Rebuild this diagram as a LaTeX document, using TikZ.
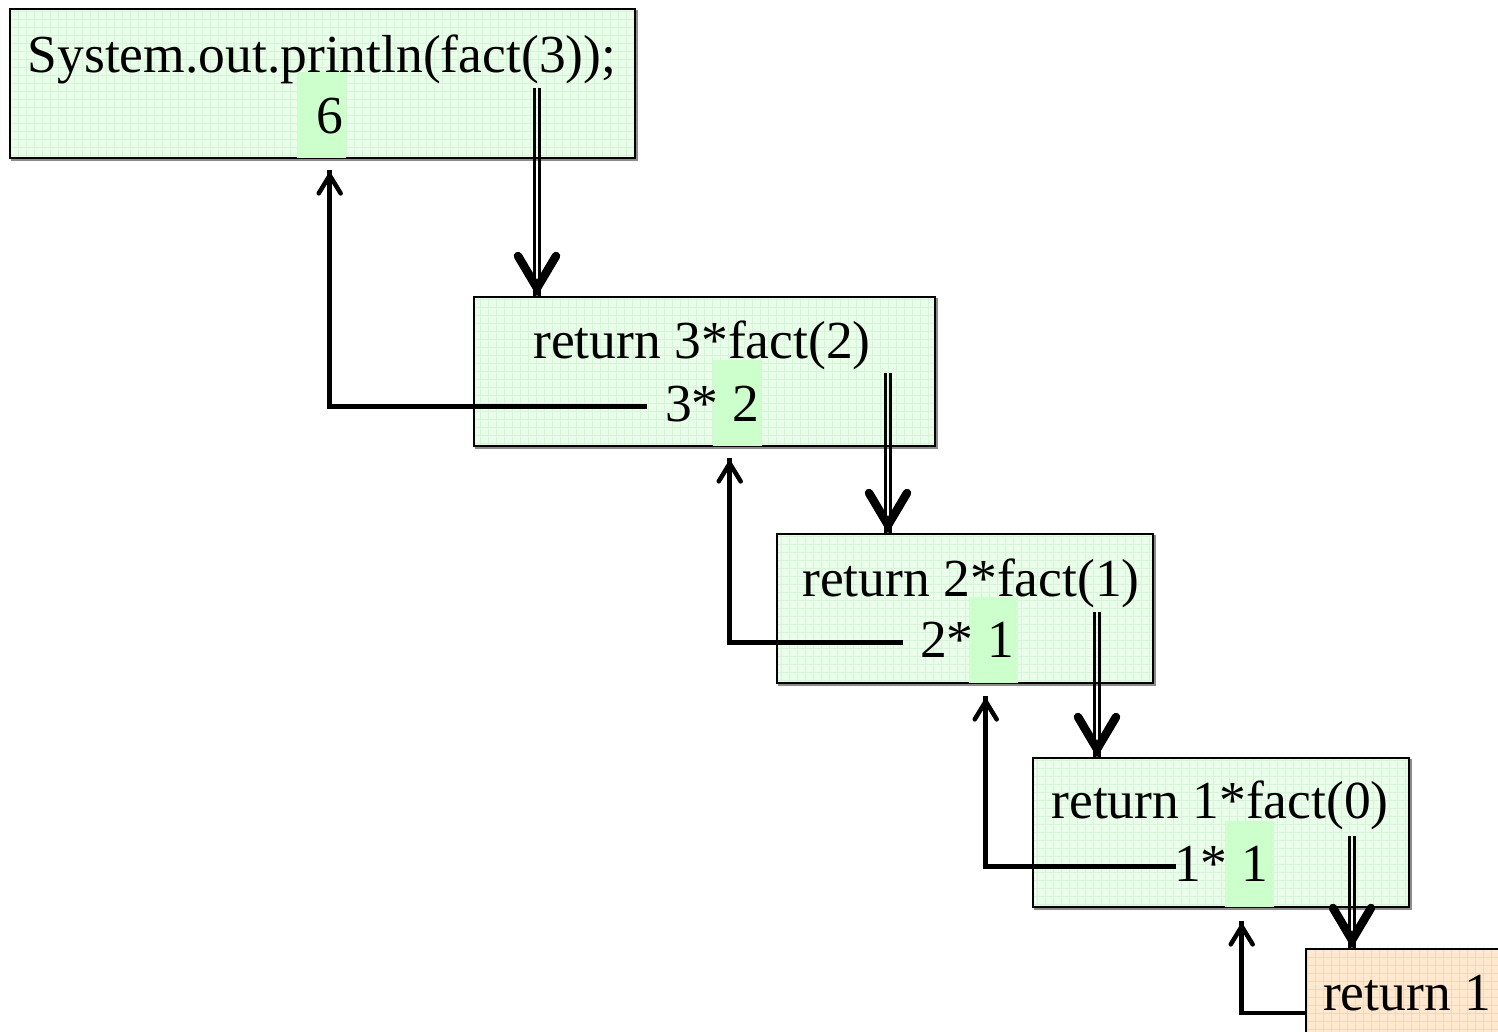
\documentclass[tikz,border=0pt]{standalone}
\usepackage{fontspec}
\setmainfont{Liberation Serif}
\usetikzlibrary{decorations.markings}
\definecolor{boxfill}{HTML}{EAFCEA}
\definecolor{boxgrid}{HTML}{D6F4D6}
\definecolor{hlfill}{HTML}{CCFFCC}
\definecolor{basefill}{HTML}{FFE8D0}
\definecolor{basegrid}{HTML}{F9D5B4}
\tikzset{
  gridded/.style={path picture={\draw[#1, line width=0.7pt]
      (path picture bounding box.south west) grid[step=8pt]
      (path picture bounding box.north east);}},
  frame/.style={draw, line width=2.2pt, inner sep=0pt, anchor=north west,
    minimum height=149pt,
    preaction={draw=black!45, line width=1.5pt,
      transform canvas={shift={(2pt,-2pt)}}}},
  callframe/.style={frame, fill=boxfill, gridded=boxgrid},
  baseframe/.style={frame, fill=basefill, gridded=basegrid},
  value/.style={fill=hlfill, inner sep=0pt, anchor=north west,
    minimum width=49pt, minimum height=86pt},
  code/.style={font=\fontsize{53.5pt}{60pt}\selectfont, inner sep=0pt, anchor=base},
  % call: two thin rails with a heavy open head
  call/.style={draw=none,
    postaction={draw, line width=2.7pt, transform canvas={xshift=-2.5pt}},
    postaction={draw, line width=2.7pt, transform canvas={xshift=2.5pt}},
    postaction={decorate, decoration={markings, mark=at position 1 with
      {\draw[line width=8.5pt, line cap=round, line join=miter]
        (-40pt,19pt) -- (-8pt,0pt) -- (-40pt,-19pt);}}}},
  % back: returned value travelling up to the caller
  back/.style={line width=4.7pt,
    postaction={decorate, decoration={markings, mark=at position 1 with
      {\draw[line width=4.5pt, line cap=round, line join=miter]
        (-23pt,11pt) -- (-5pt,0pt) -- (-23pt,-11pt);}}}},
}
\begin{document}
\begin{tikzpicture}[x=1pt, y=-1pt]
\path[use as bounding box] (0,0) rectangle (1498,1031);
\clip (0,0) rectangle (1498,1031);

% activation frames
\node[callframe, minimum width=625pt] (b1) at (9,8) {};
\node[callframe, minimum width=461pt] (b2) at (473,296) {};
\node[callframe, minimum width=376pt] (b3) at (776,533) {};
\node[callframe, minimum width=376pt] (b4) at (1032,757) {};
\node[baseframe, minimum width=210pt, minimum height=128pt] (b5) at (1305,948) {};

% slots that receive the returned values
\node[value] (h1) at (297,72) {};
\node[value] (h2) at (713,360) {};
\node[value] (h3) at (969,597) {};
\node[value] (h4) at (1225,821) {};

% code
\node[code] (t1) at (322,72) {System.out.println(fact(3));};
\node[code] (v1) at (330,133) {6};
\node[code] (t2) at (702,358) {return 3*fact(2)};
\node[code, anchor=base west] (v2) at (665,421) {3* 2};
\node[code] (t3) at (971,596) {return 2*fact(1)};
\node[code, anchor=base west] (v3) at (920,657) {2* 1};
\node[code] (t4) at (1220,818) {return 1*fact(0)};
\node[code, anchor=base west] (v4) at (1174,881) {1* 1};
\node[code] (t5) at (1407,1010) {return 1};

% calls going down
\coordinate (c1) at (537,88);
\coordinate (c2) at (888,373);
\coordinate (c3) at (1097,612);
\coordinate (c4) at (1352,836);
\draw[call] (c1) -- (c1 |- b2.north);
\draw[call] (c2) -- (c2 |- b3.north);
\draw[call] (c3) -- (c3 |- b4.north);
\draw[call] (c4) -- (c4 |- b5.north);

% values coming back up
\coordinate (e1) at ([xshift=8pt,yshift=-12pt]h1.south);
\coordinate (e2) at ([xshift=-8pt,yshift=-12pt]h2.south);
\coordinate (e3) at ([xshift=-8pt,yshift=-13pt]h3.south);
\coordinate (e4) at ([xshift=-8pt,yshift=-14pt]h4.south);
\draw[back] ([xshift=-18pt,yshift=-3pt]v2.west) -| (e1);
\draw[back] ([xshift=-17pt,yshift=-3pt]v3.west) -| (e2);
\draw[back] ([xshift=2pt,yshift=-3pt]v4.west) -| (e3);
\draw[back] (b5.west) -| (e4);
\end{tikzpicture}
\end{document}
